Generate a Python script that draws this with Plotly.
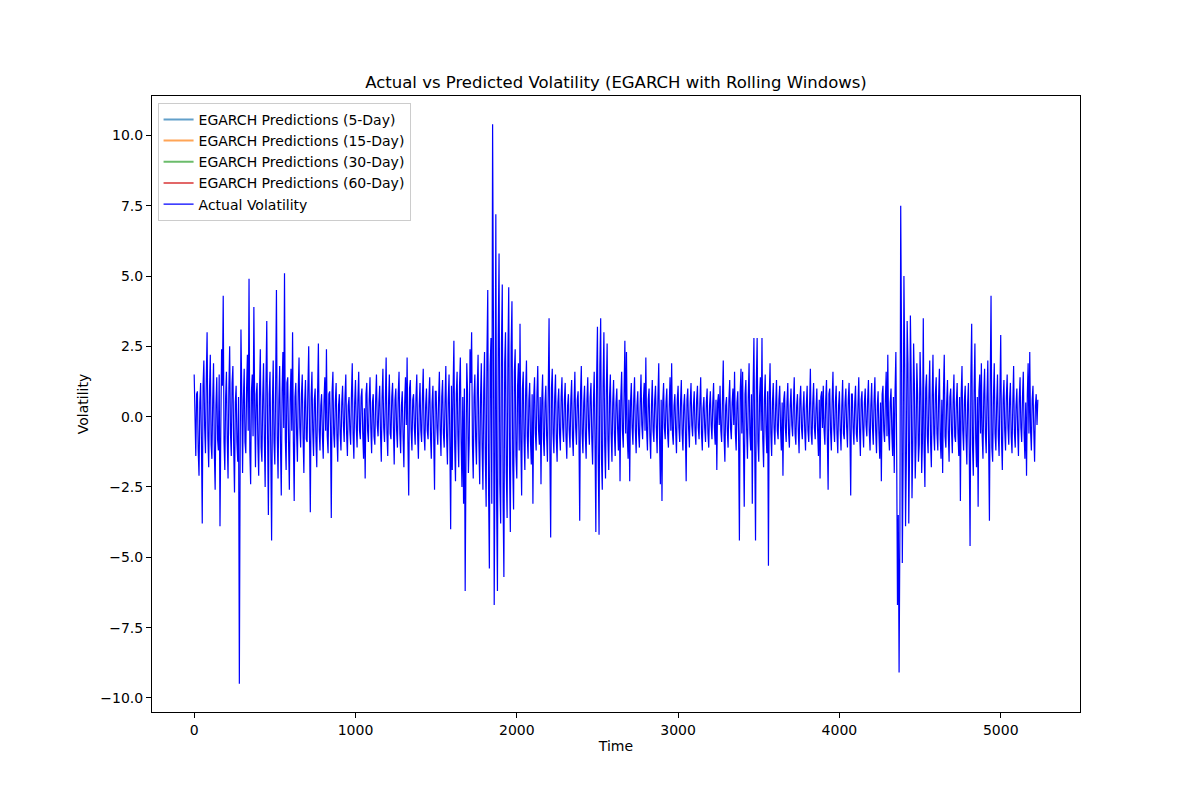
# -*- coding: utf-8 -*-

import numpy as np
import plotly.graph_objs as go

# values, one per 10 time steps (rows of 200 steps), t = 0, 10, 20, ...
actual_volatility = [
    1.5, -1.4, 0.9, -2.1, 1.2, -3.8, 2.0, -1.3, 3.0, -1.8, 2.2, -1.5, 1.9, -2.6, 1.4, -1.2, -3.9, 2.4, 4.3, -1.9,
    1.6, -2.2, 2.5, -1.4, 1.8, -2.7, 1.1, -1.6, -9.5, 3.1, -2.0, 1.7, -1.3, 2.2, 4.9, -2.4, 1.5, 3.9, -1.8, 1.2,
    -2.1, 2.4, -1.6, 1.9, -2.5, 3.4, -3.5, 1.6, -4.4, 2.0, -1.7, 4.5, -2.2, 1.8, -2.8, 2.3, 5.1, -1.9, 1.4, -2.6,
    1.7, 3.0, -3.0, 1.2, -1.6, 2.1, -1.1, 1.5, -2.0, 1.3, -0.9, 2.5, -3.4, 1.6, -1.4, 1.0, -1.8, 2.6, -1.2, 0.8,
    -1.5, 1.4, 2.4, -1.3, 0.9, -3.6, 1.6, -1.1, 1.2, -1.6, 0.8, -1.2, 1.1, -0.9, 1.5, -1.4, 0.7, -1.0, 1.9, -1.5,
    1.3, -1.1, 1.6, -0.8, 1.0, -1.5, -2.2, 1.2, -0.9, 1.4, -1.3, 0.8, -1.0, 1.5, -0.7, 1.1, -1.6, 1.7, -0.9, 2.1,
    -1.4, 1.5, -0.8, 1.2, -1.7, 1.0, -1.1, 1.6, -1.3, 0.9, -1.8, 1.4, 2.1, -2.8, 1.3, -1.2, 0.8, -1.0, 1.5, -1.5,
    1.2, -0.9, 1.7, -1.2, 1.0, -0.8, 1.4, -1.5, 1.1, -2.6, 0.9, -1.0, 1.6, -1.4, 1.3, -1.1, 1.8, -1.7, 1.5, -4.0,
    -1.9, 2.7, -2.3, 1.6, -1.8, 2.1, -2.5, -3.1, -6.2, 1.9, -2.0, 2.4, 3.0, -2.2, 1.5, -1.7, 2.2, -2.4, 1.9, -2.6,
    2.3, -3.2, 4.5, -5.4, 2.8, 10.4, -6.7, 7.2, -6.2, 5.8, -3.8, 4.7, -5.7, 3.0, -3.6, 4.6, -4.1, 4.1, -3.3, 2.4,
    -2.2, 1.9, 3.3, -2.8, 1.6, -1.9, 2.0, -1.5, 1.2, -1.7, -3.1, 1.4, -1.2, 1.8, -1.0, -2.4, 1.5, -1.4, 1.1, -1.6,
    3.5, -4.3, 1.7, -1.3, 1.5, -1.6, 1.0, -1.2, 1.4, -0.9, 1.2, -1.5, 0.8, -1.1, 1.3, -1.4, 1.6, -1.0, 0.9, -3.7,
    1.8, -1.3, 1.1, -1.5, 1.4, -1.0, 1.2, -1.7, 1.6, -4.1, 3.2, -4.2, 3.5, -2.6, 3.0, -2.2, 2.6, -1.9, 1.5, -1.6,
    1.3, -1.4, 1.0, -1.2, -2.3, 1.6, -1.1, 2.7, 2.3, -1.5, -2.3, 1.2, -1.0, 1.4, -1.3, 0.9, -1.1, 1.5, -0.8, 1.2,
    2.1, -1.2, 1.0, -1.5, 1.3, -0.9, 1.1, -1.3, 1.9, -2.4, -3.0, 1.2, -0.8, 1.0, -1.1, 1.4, 1.9, -1.0, 0.8, -1.3,
    1.1, -0.9, 1.3, -1.2, 0.8, -2.3, 1.0, -1.1, 1.2, -0.7, 0.9, -1.0, 1.1, -0.8, 1.4, -1.2, 0.7, -0.9, 1.0, -1.1,
    0.9, -0.8, 1.2, -1.0, -1.9, 0.8, 1.1, -0.9, 2.0, -1.6, 0.7, -1.1, 1.3, -0.8, 1.0, 1.6, -1.2, 0.9, -4.4, 1.7,
    1.6, -3.2, 1.3, -1.5, 1.9, -1.2, -3.1, 2.8, -4.4, 2.8, -1.6, 1.4, 2.8, -1.8, 1.5, -1.3, -5.3, 1.9, -1.4, 1.2,
    -1.0, 1.3, -0.8, 1.1, -1.2, -2.1, 0.9, -0.9, 1.2, -1.1, 1.0, -0.7, 1.4, -1.0, 0.8, -1.3, 1.1, -0.8, 0.9, -1.2,
    1.1, -0.9, 1.7, -1.0, 1.2, -0.8, 1.0, -1.4, -2.2, 0.9, 1.1, -1.0, 1.3, -2.6, 1.0, -1.2, 1.6, -0.9, 1.1, -1.3,
    0.9, -1.2, 1.3, -0.8, 1.0, -1.1, 1.2, -2.8, 0.8, -1.0, 1.1, -0.9, 1.4, -1.4, 0.9, -1.1, 1.0, -0.7, 1.3, -1.2,
    1.2, -1.0, 1.4, -1.3, 0.9, -1.5, -2.3, 1.1, -0.9, 1.6, 2.2, -1.2, 1.0, -1.4, -2.0, 2.3, -6.7, -9.1, 7.5, -5.2,
    5.0, -3.9, 3.4, -3.8, 3.6, -2.9, 2.6, -2.2, 1.9, -1.6, 2.3, -2.0, 3.5, -2.5, 1.5, -1.3, 2.0, -1.8, 2.2, -1.2,
    1.4, -1.2, 1.7, -1.5, -2.0, 2.2, -1.1, 1.3, -1.6, 1.0, -1.3, 1.5, -0.9, 1.2, -1.4, -3.0, 1.8, -1.2, 1.1, -1.7,
    1.2, -4.6, 3.3, -2.1, 2.6, -1.8, -3.2, 1.5, 1.9, -1.5, 1.7, -1.3, 2.0, -3.7, 4.3, -1.6, 1.9, -1.2, 1.5, -1.4,
    2.9, -1.9, 1.3, -1.2, 1.5, -1.0, 1.2, -1.3, 1.8, -1.1, 1.0, -1.4, 1.4, -0.9, 1.6, -1.5, -2.1, 1.9, 2.3, -1.2,
    1.1, -1.6, 0.8, 0.6,
]
# values in between, t = 5, 15, 25, ...
actual_volatility_mid = [
    -0.6, 0.8, -1.2, 0.5, -0.9, 1.1, -0.4, 1.3, -0.7, 0.9, -1.0, 0.6, -1.3, 0.4, -0.8, 1.5, -0.5, 1.1, -0.9, 0.7,
    -0.8, 1.0, -0.6, 1.2, -1.1, 0.5, -0.9, 0.7, -1.4, 0.8, 0.6, -0.9, 1.0, -0.5, -1.2, 0.9, -0.7, 0.4, 0.8, -1.0,
    0.9, -1.1, 0.7, -0.8, 1.2, -0.6, 0.8, -1.3, 0.5, -0.9, 1.1, -0.7, 0.6, -1.0, 0.9, -0.4, -0.8, 1.2, -0.9, 0.6,
    -0.5, -0.9, 0.7, -0.6, 0.9, -0.4, 0.8, -0.7, 0.5, -0.8, 1.0, -0.6, 0.7, -0.5, 0.6, -0.9, 0.8, -0.5, 0.4, -0.7,
    0.6, -0.5, -0.7, 0.8, -0.4, 0.9, -0.6, 0.5, -0.7, 0.4, -0.6, 0.5, -0.3, 0.7, -0.6, 0.4, -0.5, 0.8, -0.6, 0.5,
    -0.4, 0.6, -0.5, 0.7, -0.6, 0.3, 0.8, -0.5, 0.6, -0.4, 0.5, -0.7, 0.6, -0.3, 0.5, -0.6, 0.7, -0.4, 0.5, -0.6,
    0.5, -0.6, 0.7, -0.4, 0.6, -0.5, 0.8, -0.6, 0.4, -0.7, 0.5, -0.3, -0.9, 1.0, -0.5, 0.6, -0.4, 0.7, -0.6, 0.4,
    -0.5, 0.7, -0.6, 0.4, -0.5, 0.6, -0.7, 0.5, -0.8, 0.9, -0.4, 0.6, -0.5, 0.7, -0.6, 0.5, -0.7, 0.6, -0.9, 1.1,
    0.9, -1.0, 0.8, -0.7, 1.1, -0.9, 0.7, 1.0, -1.5, 0.8, -0.9, 1.2, -1.0, 0.7, -0.8, 1.0, -0.9, 0.6, -1.1, 0.9,
    -1.5, 2.2, -2.6, 1.8, -3.1, 3.5, -1.2, -3.0, 2.9, -2.4, 2.6, -2.9, 1.9, -2.0, 2.2, -1.8, 2.5, -1.7, 1.6, -1.4,
    1.1, -1.2, -0.9, 1.0, -0.8, 0.9, -0.7, 0.6, -0.9, 0.8, 0.7, -0.6, 0.8, -0.5, 0.7, 0.6, -0.8, 0.5, -0.7, 0.9,
    -1.2, 1.0, -0.6, 0.7, -0.8, 0.5, -0.6, 0.7, -0.4, 0.6, -0.7, 0.4, -0.5, 0.6, -0.7, 0.5, -0.4, 0.6, -0.5, 0.8,
    -0.6, 0.5, -0.7, 0.6, -0.4, 0.7, -0.8, 0.5, -0.9, 1.4, -1.6, 1.8, -1.5, 1.2, -1.0, 0.9, -0.8, 0.7, -0.6, 0.5,
    -0.6, 0.5, -0.4, 0.6, 0.7, -0.5, 0.8, -0.6, -0.7, 0.6, 0.5, -0.4, 0.6, -0.5, 0.4, -0.6, 0.5, -0.3, 0.6, -0.5,
    -0.5, 0.6, -0.7, 0.4, -0.5, 0.6, -0.4, 0.7, -0.8, 0.6, 0.5, -0.4, 0.5, -0.6, 0.4, -0.5, -0.6, 0.4, -0.5, 0.6,
    -0.4, 0.5, -0.6, 0.4, -0.5, 0.6, -0.4, 0.5, -0.3, 0.4, -0.5, 0.6, -0.4, 0.5, -0.6, 0.3, -0.4, 0.5, -0.6, 0.4,
    -0.3, 0.5, -0.4, 0.6, 0.5, -0.3, -0.5, 0.6, -0.7, 0.4, -0.5, 0.6, -0.4, 0.5, -0.3, -0.6, 0.5, -0.7, 0.9, -0.6,
    -0.9, 0.8, -0.5, 0.7, -0.6, 0.8, 1.0, -1.1, 1.2, -0.9, 0.7, -0.5, -0.8, 0.6, -0.5, 0.9, 0.7, -0.6, 0.5, -0.4,
    0.4, -0.5, 0.6, -0.4, 0.5, 0.6, -0.4, 0.5, -0.6, 0.4, -0.3, 0.5, -0.6, 0.4, -0.5, 0.6, -0.4, 0.3, -0.5, 0.4,
    -0.5, 0.4, -0.6, 0.5, -0.4, 0.3, -0.5, 0.6, 0.7, -0.4, -0.5, 0.6, -0.7, 0.8, -0.5, 0.6, -0.4, 0.5, -0.6, 0.4,
    -0.5, 0.4, -0.6, 0.5, -0.4, 0.6, -0.5, 0.8, -0.4, 0.5, -0.6, 0.4, -0.5, 0.6, -0.4, 0.5, -0.3, 0.6, -0.5, 0.4,
    -0.4, 0.6, -0.5, 0.4, -0.6, 0.5, 0.8, -0.5, 0.6, -0.7, -0.6, 0.5, -0.6, 0.7, 0.9, -1.2, -3.5, -4.0, 2.8, -1.5,
    1.8, -1.5, 1.9, -1.2, 1.4, -1.0, 1.1, -0.9, 0.8, -1.0, 0.9, -0.8, -1.1, 1.0, -0.7, 0.8, -0.9, 0.7, -0.6, 0.8,
    -0.6, 0.7, -0.8, 0.6, 0.9, -0.7, 0.5, -0.6, 0.7, -0.5, 0.6, -0.7, 0.5, -0.6, 0.7, 0.8, -0.5, 0.6, -0.7, 0.5,
    -1.2, 1.4, -1.0, 0.9, -0.8, 0.7, 0.9, -0.6, -0.7, 0.8, -0.6, 0.7, -0.9, 1.2, -1.1, 0.7, -0.6, 0.5, -0.7, 0.8,
    -0.8, 0.6, -0.5, 0.7, -0.4, 0.6, -0.7, 0.5, -0.6, 0.4, -0.5, 0.6, -0.4, 0.7, -0.6, 0.5, 0.8, -0.6, -0.5, 0.6,
    -0.5, 0.4, -0.3,
]
time_step = 5

prediction_names = ['EGARCH Predictions (5-Day)', 'EGARCH Predictions (15-Day)',
                    'EGARCH Predictions (30-Day)', 'EGARCH Predictions (60-Day)']
prediction_colors = ['rgba(31,119,180,0.7)', 'rgba(255,127,14,0.7)',
                     'rgba(44,160,44,0.7)', 'rgba(214,39,40,0.7)']
y_ticks = [-10.0, -7.5, -5.0, -2.5, 0.0, 2.5, 5.0, 7.5, 10.0]
x_ticks = [0, 1000, 2000, 3000, 4000, 5000]

# merge the two lists into one series, every 5 time steps
volatility = np.empty(len(actual_volatility) + len(actual_volatility_mid))
volatility[0::2] = actual_volatility
volatility[1::2] = actual_volatility_mid
time = np.arange(len(volatility)) * time_step

fig = go.Figure()
# prediction series are empty in the original figure, they only show in the legend
for name, color in zip(prediction_names, prediction_colors):
    fig.add_trace(go.Scatter(x=[None],
                             y=[None],
                             mode='lines',
                             name=name,
                             legendgroup=name,
                             line=dict(color=color, width=2),
                             )
                  )
fig.add_trace(go.Scatter(x=time,
                         y=volatility,
                         mode='lines',
                         name='Actual Volatility',
                         legendgroup='actual',
                         line=dict(color='blue', width=1.2),
                         )
              )

axis_style = dict(showgrid=False,
                  zeroline=False,
                  showline=True,
                  linecolor='black',
                  linewidth=1,
                  mirror=True,
                  ticks='outside',
                  ticklen=5,
                  tickcolor='black',
                  tickfont=dict(size=14, color='black'),
                  )
fig.update_layout(width=1200,
                  height=800,
                  paper_bgcolor='white',
                  plot_bgcolor='white',
                  font=dict(family='DejaVu Sans', color='black'),
                  margin=dict(l=144, r=128, t=88, b=96),
                  title=dict(text='Actual vs Predicted Volatility (EGARCH with Rolling Windows)',
                             font=dict(size=16.5),
                             x=608 / 1200,
                             xanchor='center',
                             y=1 - 74 / 800,
                             yanchor='middle',
                             ),
                  showlegend=True,
                  legend=dict(x=0.006,
                              y=0.989,
                              xanchor='left',
                              yanchor='top',
                              bgcolor='rgba(255,255,255,0.8)',
                              bordercolor='#cccccc',
                              borderwidth=1,
                              font=dict(size=14),
                              tracegroupgap=0,
                              ),
                  )
fig.update_xaxes(axis_style,
                 range=[-261.5, 5491.5],
                 tickvals=x_ticks,
                 title=dict(text='Time', font=dict(size=14), standoff=4),
                 )
fig.update_yaxes(axis_style,
                 range=[-10.5, 11.4],
                 tickvals=y_ticks,
                 tickformat='.1f',
                 title=dict(text='Volatility', font=dict(size=14), standoff=8),
                 )
fig.write_html("out.html")
